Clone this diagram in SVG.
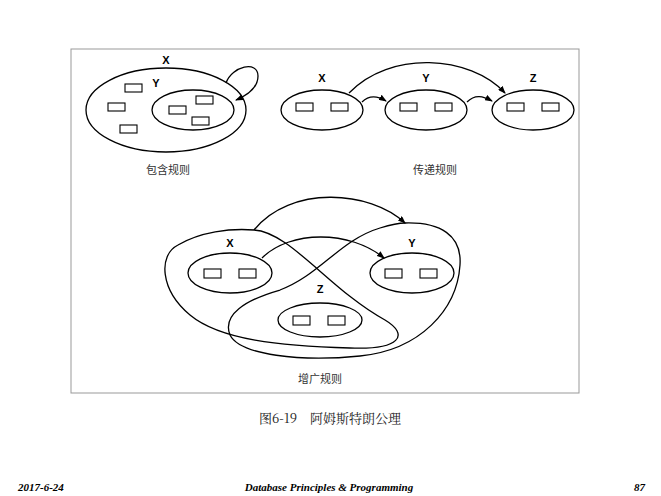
<svg xmlns="http://www.w3.org/2000/svg" width="661" height="496" viewBox="0 0 661 496">
<defs>
<style>
.l{fill:none;stroke:#000;stroke-width:1.3}
.r{fill:#fff;stroke:#000;stroke-width:1.1}
.t{font-family:"Liberation Sans",sans-serif;font-size:11px;font-weight:bold;text-anchor:middle}
.c{font-family:"Noto Sans CJK SC",sans-serif;font-size:11px;text-anchor:middle;fill:#333}
.f{font-family:"Liberation Serif",serif;font-size:11px;font-weight:bold;font-style:italic}
</style>
<marker id="a" markerWidth="8" markerHeight="6" refX="7" refY="3" orient="auto" markerUnits="userSpaceOnUse"><path d="M0,0 L8,3 L0,6 Z"/></marker>
</defs>
<rect x="0" y="0" width="661" height="496" fill="#fff"/>
<rect x="71" y="49" width="508" height="344" fill="#fff" stroke="#999"/>
<g id="incl">
<ellipse class="l" cx="166" cy="110" rx="80" ry="42"/>
<ellipse class="l" cx="193" cy="110" rx="41" ry="20"/>
<text class="t" x="166" y="64">X</text><text class="t" x="156" y="87">Y</text>
<rect class="r" x="125" y="84" width="17" height="8"/><rect class="r" x="108" y="103" width="17" height="8"/><rect class="r" x="120" y="125" width="17" height="8"/>
<rect class="r" x="169" y="106" width="17" height="8"/><rect class="r" x="196" y="96" width="17" height="8"/><rect class="r" x="192" y="117" width="17" height="8"/>
<text class="c" x="168" y="174">包含规则</text>
</g>
<g id="trans">
<ellipse class="l" cx="322" cy="110" rx="41" ry="20"/><ellipse class="l" cx="426" cy="110" rx="41" ry="20"/><ellipse class="l" cx="533" cy="110" rx="41" ry="20"/>
<text class="t" x="322" y="82">X</text><text class="t" x="426" y="82">Y</text><text class="t" x="533" y="82">Z</text>
<rect class="r" x="296" y="103" width="17" height="8"/><rect class="r" x="331" y="103" width="17" height="8"/>
<rect class="r" x="400" y="103" width="17" height="8"/><rect class="r" x="435" y="103" width="17" height="8"/>
<rect class="r" x="507" y="103" width="17" height="8"/><rect class="r" x="542" y="103" width="17" height="8"/>
<text class="c" x="435" y="174">传递规则</text>
</g>
<g id="aug">
<path class="l" d="M254,230 C290,232 330,290 385,320 C410,335 400,350 350,348 C280,346 220,340 190,315 C160,290 158,255 178,245 C200,232 230,228 254,230 Z"/>
<path class="l" d="M405,223 C440,222 462,235 460,265 C457,310 420,350 360,356 C300,362 240,355 230,335 C222,315 245,300 280,290 C320,275 340,240 380,228 C390,225 398,223 405,223 Z"/>
<ellipse class="l" cx="230" cy="273" rx="42" ry="20"/><ellipse class="l" cx="412" cy="273" rx="42" ry="20"/><ellipse class="l" cx="320" cy="320" rx="42" ry="17"/>
<text class="t" x="230" y="247">X</text><text class="t" x="412" y="247">Y</text><text class="t" x="320" y="293">Z</text>
<rect class="r" x="204" y="269" width="17" height="9"/><rect class="r" x="239" y="269" width="17" height="9"/>
<rect class="r" x="385" y="269" width="17" height="9"/><rect class="r" x="420" y="269" width="17" height="9"/>
<rect class="r" x="293" y="316" width="17" height="9"/><rect class="r" x="328" y="316" width="17" height="9"/>
<text class="c" x="320" y="383">增广规则</text>
</g>
<g id="connectors">
<path class="l" d="M226,83 C232,66 258,60 258,76 C258,88 248,95 236,100" marker-end="url(#a)"/>
<path class="l" d="M362,102 C370,94 378,96 386,101" marker-end="url(#a)"/>
<path class="l" d="M467,102 C475,94 483,96 492,101" marker-end="url(#a)"/>
<path class="l" d="M349,93 C390,50 470,55 505,93" marker-end="url(#a)"/>
<path class="l" d="M254,230 C290,185 370,190 405,223" marker-end="url(#a)"/>
<path class="l" d="M262,258 C290,230 350,230 384,258" marker-end="url(#a)"/>
</g>
<text class="c" x="330" y="423" style="font-family:'Noto Serif CJK SC','Noto Sans CJK SC',serif;font-size:13px;fill:#222">图6-19　阿姆斯特朗公理</text>
<text class="f" x="18" y="491">2017-6-24</text>
<text class="f" x="329" y="491" text-anchor="middle">Database Principles &amp; Programming</text>
<text class="f" x="645" y="491" text-anchor="end">87</text>
</svg>
